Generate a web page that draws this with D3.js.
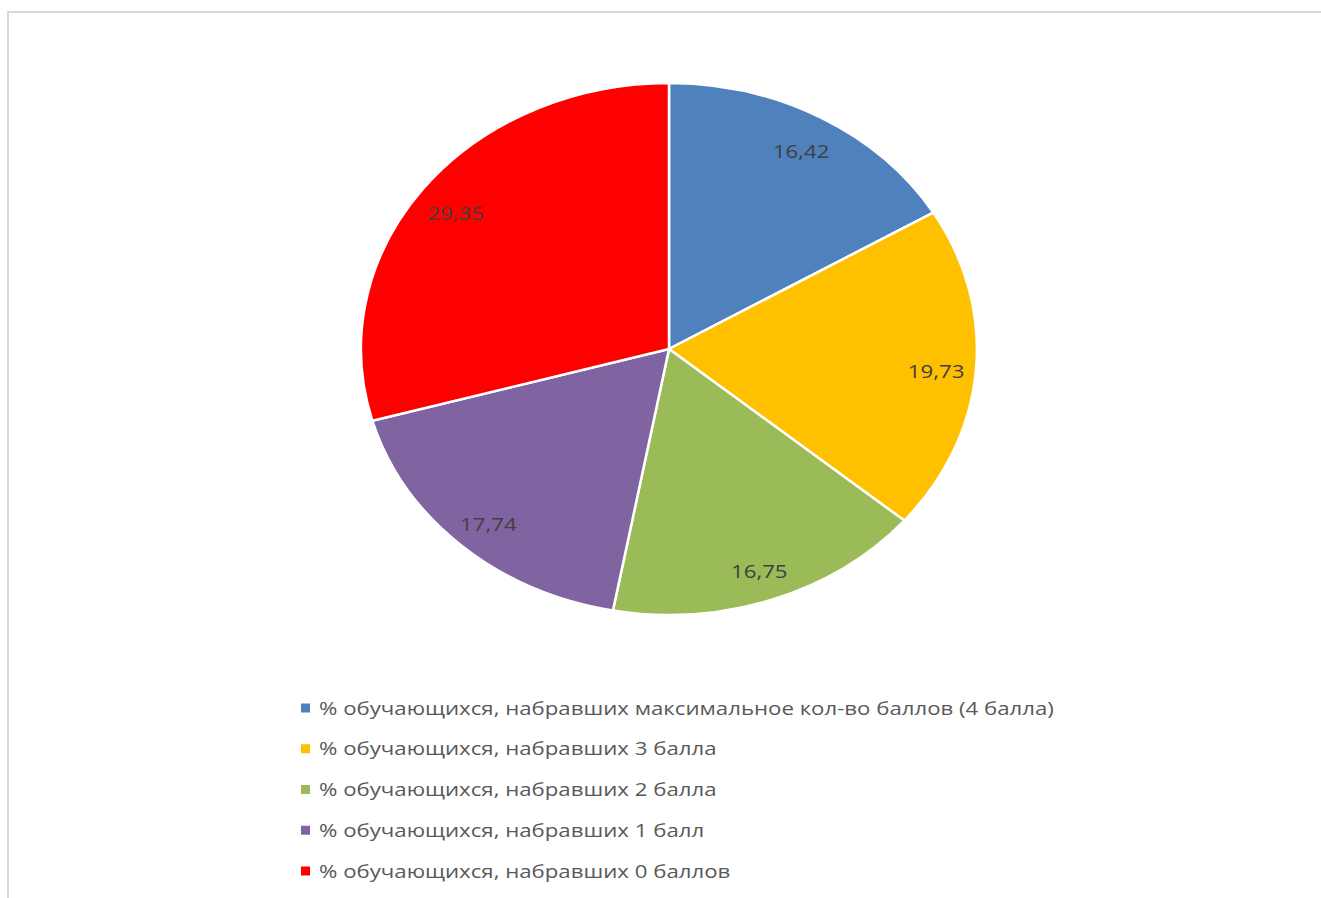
<!DOCTYPE html>
<html><head><meta charset="utf-8">
<script src="https://cdn.jsdelivr.net/npm/d3@7"></script>
<style>
html,body{margin:0;padding:0;background:#fff;overflow:hidden;}
text{font-family:"Open Sans","DejaVu Sans",sans-serif;}
</style></head>
<body>
<svg id="chart" width="1321" height="898"></svg>
<script>
const categories = [
  "% обучающихся, набравших максимальное кол-во баллов (4 балла)",
  "% обучающихся, набравших 3 балла",
  "% обучающихся, набравших 2 балла",
  "% обучающихся, набравших 1 балл",
  "% обучающихся, набравших 0 баллов"
];
const values = [16.42, 19.73, 16.75, 17.74, 29.35];
const labels = ["16,42", "19,73", "16,75", "17,74", "29,35"];
const colors = ["#4F81BD", "#FFC000", "#9BBB59", "#8064A2", "#FF0000"];

const svg = d3.select("#chart");
svg.append("rect").attr("x", 8).attr("y", 12).attr("width", 1340).attr("height", 920)
  .attr("fill", "#fff").attr("stroke", "#d9d9d9").attr("stroke-width", 2);

const cx = 669, cy = 349, rx = 308, ry = 266;
const sx = d3.scaleLinear().domain([-1, 1]).range([cx - rx, cx + rx]);
const sy = d3.scaleLinear().domain([-1, 1]).range([cy - ry, cy + ry]);

const pie = d3.pie().sort(null).value(d => d);
const arcs = pie(values);
const arc = d3.arc().innerRadius(0).outerRadius(1);
const labelArc = d3.arc().innerRadius(0.87).outerRadius(0.87);

const g = svg.append("g").attr("transform", `translate(${cx},${cy}) scale(${rx},${ry})`);
g.selectAll("path").data(arcs).join("path")
  .attr("d", arc)
  .attr("fill", (d, i) => colors[i])
  .attr("stroke", "#fff").attr("stroke-width", 2.5)
  .attr("vector-effect", "non-scaling-stroke");

const fsx = 1.17;
svg.selectAll("text.lbl").data(arcs).join("text").attr("class", "lbl")
  .attr("transform", d => { const c = labelArc.centroid(d); return `translate(${sx(c[0])},${sy(c[1]) + 4}) scale(${fsx},1)`; })
  .attr("text-anchor", "middle").attr("dy", "0.35em")
  .attr("font-size", 19).attr("fill", "#404040")
  .text((d, i) => labels[i]);

const ly = d3.scalePoint().domain(d3.range(categories.length)).range([708, 871]);
const leg = svg.append("g");
const rows = leg.selectAll("g").data(categories).join("g")
  .attr("transform", (d, i) => `translate(0,${ly(i)})`);
rows.append("rect").attr("x", 301).attr("y", -4.5).attr("width", 9).attr("height", 9)
  .attr("fill", (d, i) => colors[i]);
rows.append("text").attr("transform", `translate(319,0) scale(${fsx},1)`)
  .attr("dy", "0.35em").attr("font-size", 19).attr("fill", "#595959")
  .text(d => d);
</script>
</body></html>
